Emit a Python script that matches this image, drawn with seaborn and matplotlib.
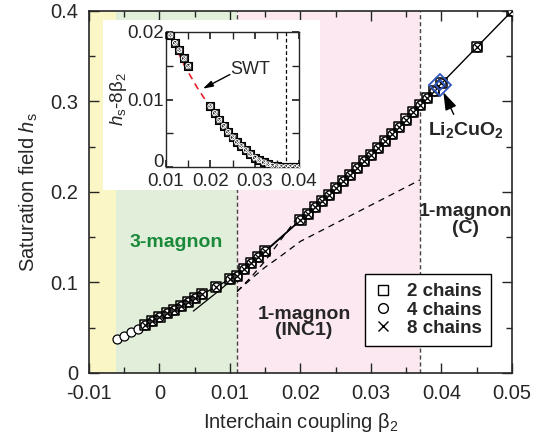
import matplotlib
matplotlib.use("Agg")
import matplotlib.pyplot as plt
from matplotlib.lines import Line2D
from matplotlib.patches import Rectangle
import seaborn as sns
import pandas as pd

# ---- data ----
# 4-chain (circles) run further left than the 2/8-chain ones
beta_circ = [-0.006, -0.005, -0.004, -0.003]
h_circ = [0.038, 0.041, 0.045, 0.049]

beta_main = [-0.002, -0.001, 0.000, 0.001, 0.002, 0.003, 0.004, 0.005, 0.006, 0.008, 0.010,
             0.011, 0.012, 0.013, 0.014, 0.015,
             0.020, 0.021, 0.022, 0.023, 0.024, 0.025, 0.026, 0.027, 0.028, 0.029, 0.030,
             0.031, 0.032, 0.033, 0.034, 0.035, 0.036, 0.037, 0.038, 0.039, 0.040,
             0.045, 0.050]
h_main = [0.053, 0.058, 0.062, 0.066, 0.070, 0.074, 0.078, 0.083, 0.087, 0.095, 0.104,
          0.1075, 0.1144, 0.1213, 0.1281, 0.1350,
          0.1690, 0.1760, 0.1830, 0.1901, 0.1972, 0.2044, 0.2117, 0.2191, 0.2265, 0.2339, 0.2414,
          0.2490, 0.2567, 0.2644, 0.2722, 0.2801, 0.2880, 0.2960, 0.3040, 0.3120, 0.3200,
          0.3600, 0.4000]

# inset: h_s - 8 beta_2 for beta_2 >= 0.011
beta_ins = [0.011, 0.012, 0.013, 0.014, 0.015,
            0.020, 0.021, 0.022, 0.023, 0.024, 0.025, 0.026, 0.027, 0.028, 0.029, 0.030,
            0.031, 0.032, 0.033, 0.034, 0.035, 0.036, 0.037, 0.038, 0.039, 0.040]
d_ins = [0.0195, 0.0184, 0.0173, 0.0161, 0.0150,
         0.0090, 0.0080, 0.0070, 0.0061, 0.0052, 0.0044, 0.0037, 0.0031, 0.0025, 0.0019, 0.0014,
         0.0010, 0.0007, 0.0004, 0.0002, 0.0001, 0.0, 0.0, 0.0, 0.0, 0.0]

# spin-wave theory curve (solid in main, red dashed in inset)
beta_swt = [0.0048, 0.008, 0.011, 0.014, 0.017, 0.020, 0.023, 0.026, 0.029, 0.032, 0.035, 0.037]
d_swt = [0.0300, 0.0242, 0.0195, 0.0152, 0.0118, 0.0088, 0.0060, 0.0037, 0.0019, 0.0007, 0.0001, 0.0]
h_swt = [0.0684, 0.0882, 0.1075, 0.1272, 0.1478, 0.1688, 0.1900, 0.2117, 0.2339, 0.2567, 0.2801, 0.2960]

# dashed extrapolations from the 3-magnon boundary
beta_dashA = [0.011, 0.013, 0.015, 0.017, 0.0195]
h_dashA = [0.090, 0.106, 0.124, 0.145, 0.171]
beta_dashB = [0.011, 0.013, 0.015, 0.017, 0.020, 0.037]
h_dashB = [0.090, 0.104, 0.117, 0.128, 0.1455, 0.2135]

beta_li, h_li = 0.0398, 0.3185
bounds = [-0.01, -0.0062, 0.011, 0.037, 0.05]
region_colors = ["#fbf6c6", "#e1eed9", "#fbe8f0", "white"]

# ---- style ----
sns.set_theme(style="ticks")
plt.rcParams["font.family"] = ["Liberation Sans", "DejaVu Sans"]
plt.rcParams["mathtext.fontset"] = "custom"
plt.rcParams["mathtext.rm"] = "Liberation Sans"
plt.rcParams["mathtext.it"] = "Liberation Sans:italic"
plt.rcParams["mathtext.bf"] = "Liberation Sans:bold"
FS = 14.5      # axis ticks / labels
FT = 14        # bold annotations
FI = 13.5      # inset

fig = plt.figure(figsize=(5.49, 4.45), dpi=100)
ax = fig.add_axes([0.1621, 0.1618, 0.7705, 0.8135])

for i, c in enumerate(region_colors):
    ax.axvspan(bounds[i], bounds[i + 1], color=c, lw=0, zorder=0)
for xv in (0.011, 0.037):
    ax.axvline(xv, color="#444444", ls=(0, (3, 2)), lw=1.0, zorder=1)

ax.plot(beta_dashA, h_dashA, color="black", ls=(0, (5, 4)), lw=0.9, zorder=2)
ax.plot(beta_dashB, h_dashB, color="black", ls=(0, (5, 4)), lw=0.9, zorder=2)
ax.plot(beta_swt, h_swt, color="black", lw=0.9, zorder=2)

df = pd.DataFrame({"beta": beta_circ + beta_main, "h": h_circ + h_main})
sns.lineplot(data=df, x="beta", y="h", ax=ax, color="black", lw=1.0, zorder=3, sort=False)
sns.scatterplot(data=df, x="beta", y="h", ax=ax, marker="o", s=42, facecolor="white",
                edgecolor="black", linewidth=0.9, zorder=4)
dm = pd.DataFrame({"beta": beta_main, "h": h_main})
sns.scatterplot(data=dm, x="beta", y="h", ax=ax, marker="s", s=52, facecolor="none",
                edgecolor="black", linewidth=1.1, zorder=5)
sns.scatterplot(data=dm, x="beta", y="h", ax=ax, marker="x", s=26, color="black",
                linewidth=0.9, zorder=6)

ax.plot([beta_li], [h_li], marker="D", ms=11, mfc="none", mec="#2f56c0", mew=1.3, zorder=7)
ax.plot([beta_li], [h_li], marker="D", ms=5.5, mfc="none", mec="#2f56c0", mew=1.3, zorder=7)
ax.annotate("", xy=(0.0401, 0.313), xytext=(0.0419, 0.283),
            arrowprops=dict(arrowstyle="-|>,head_length=0.9,head_width=0.3", color="black", lw=1.0),
            zorder=8)
ax.text(0.0435, 0.269, r"Li$_\mathbf{2}$CuO$_\mathbf{2}$", ha="center", va="center",
        fontsize=FT, fontweight="bold")

ax.text(0.0023, 0.144, "3-magnon", color="#1a8a3a", fontsize=FT, fontweight="bold",
        ha="center", va="center")
ax.text(0.0205, 0.056, "1-magnon\n(INC1)", fontsize=FT, fontweight="bold", ha="center",
        va="center", linespacing=0.95)
ax.text(0.0434, 0.169, "1-magnon\n(C)", fontsize=FT, fontweight="bold", ha="center",
        va="center", linespacing=0.95)

ax.set_xlim(-0.01, 0.05)
ax.set_ylim(0, 0.4)
ax.set_xticks([-0.01, 0, 0.01, 0.02, 0.03, 0.04, 0.05])
ax.set_xticklabels(["-0.01", "0", "0.01", "0.02", "0.03", "0.04", "0.05"])
ax.set_xticks([-0.005, 0.005, 0.015, 0.025, 0.035, 0.045], minor=True)
ax.set_yticks([0, 0.1, 0.2, 0.3, 0.4])
ax.set_yticklabels(["0", "0.1", "0.2", "0.3", "0.4"])
ax.set_yticks([0.05, 0.15, 0.25, 0.35], minor=True)
ax.tick_params(which="both", direction="in", top=True, right=True, labelsize=FS, width=1.0)
ax.tick_params(axis="both", pad=8)
ax.tick_params(which="major", length=7)
ax.tick_params(which="minor", length=4)
for sp in ax.spines.values():
    sp.set_linewidth(1.2)
ax.set_xlabel("Interchain coupling β$_2$", fontsize=FS, labelpad=6)
ax.set_ylabel(r"Saturation field $h_\mathrm{s}$", fontsize=FS, labelpad=7)

handles = [Line2D([], [], ls="none", marker="s", ms=7, mfc="none", mec="black", mew=1.0),
           Line2D([], [], ls="none", marker="o", ms=7, mfc="none", mec="black", mew=1.0),
           Line2D([], [], ls="none", marker="x", ms=7, color="black", mew=1.0)]
leg = ax.legend(handles, ["2 chains", "4 chains", "8 chains"], loc="lower right",
                bbox_to_anchor=(0.950, 0.0746), borderaxespad=0, frameon=True, fancybox=False,
                edgecolor="black", framealpha=1, handletextpad=0.8, handlelength=0.9,
                borderpad=0.5, labelspacing=0.05, prop={"weight": "bold", "size": 13.5})
leg.get_frame().set_linewidth(1.0)

# ---- inset ----
fig.patches.append(Rectangle((0.1876, 0.573), 0.3953, 0.382, transform=fig.transFigure,
                             facecolor="white", edgecolor="none", zorder=2))
ins = fig.add_axes([0.3024, 0.6247, 0.2423, 0.3034])
ins.set_zorder(3)
ins.axvline(0.037, color="black", ls=(0, (3, 2)), lw=0.9)
ins.plot(beta_swt, d_swt, color="#e8202a", ls=(0, (4, 3)), lw=1.2, zorder=2)
di = pd.DataFrame({"beta": beta_ins, "d": d_ins})
sns.scatterplot(data=di, x="beta", y="d", ax=ins, marker="s", s=34, facecolor="#2a2a2a",
                edgecolor="black", linewidth=0.8, zorder=3)
sns.scatterplot(data=di, x="beta", y="d", ax=ins, marker="o", s=12, facecolor="none",
                edgecolor="white", linewidth=0.7, zorder=4)
sns.scatterplot(data=di, x="beta", y="d", ax=ins, marker="x", s=10, color="white",
                linewidth=0.6, zorder=4)
ins.annotate("", xy=(0.0183, 0.0116), xytext=(0.0244, 0.0137),
             arrowprops=dict(arrowstyle="-|>,head_length=0.5,head_width=0.15",
                             color="black", lw=1.0, shrinkA=0, shrinkB=0))
ins.text(0.0289, 0.0144, "SWT", ha="center", va="center", fontsize=13)
ins.set_xlim(0.01, 0.04)
ins.set_ylim(0, 0.02)
ins.set_xticks([0.01, 0.02, 0.03, 0.04])
ins.set_xticklabels(["0.01", "0.02", "0.03", "0.04"])
ins.set_xticks([0.015, 0.025, 0.035], minor=True)
ins.set_yticks([0, 0.01, 0.02])
ins.set_yticklabels(["0", "0.01", "0.02"])
ins.set_yticks([0.005, 0.015], minor=True)
ins.tick_params(which="both", direction="in", top=True, right=True, labelsize=FI)
ins.tick_params(axis="x", pad=4.3)
ins.tick_params(axis="y", pad=1.5)
ins.tick_params(which="major", length=5)
ins.tick_params(which="minor", length=5)
# the "0" label sits on the axis, clear of the "0.01" below it
ins.get_yticklabels()[0].set_va("baseline")
for sp in ins.spines.values():
    sp.set_linewidth(1.0)
ins.set_xlabel("")
ins.set_ylabel(r"$h_\mathrm{s}$-8β$_2$", fontsize=FI, labelpad=-1)

fig.savefig("out.png", dpi=100)
